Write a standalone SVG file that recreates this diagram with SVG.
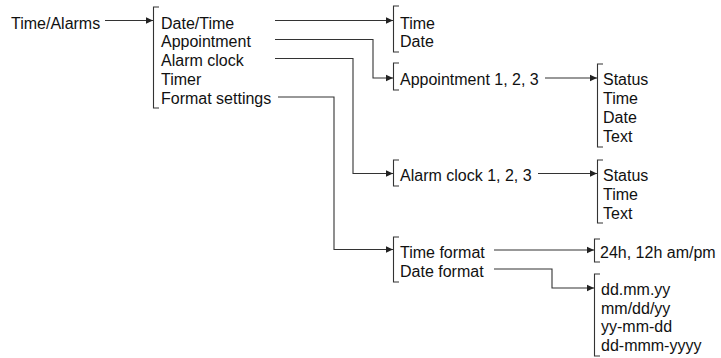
<svg xmlns="http://www.w3.org/2000/svg" width="721" height="358" viewBox="0 0 721 358">
<defs>
<style>
text{font-family:"Liberation Sans",Arial,Helvetica,sans-serif;font-size:16px;fill:#111;}
.c{fill:none;stroke:#333;stroke-width:1.1;}
.b{fill:none;stroke:#333;stroke-width:1.1;}
</style>
<marker id="ah" markerUnits="userSpaceOnUse" markerWidth="8" markerHeight="8" viewBox="0 0 8 8" refX="7" refY="4" orient="auto">
<path d="M0,0.8 L7,4 L0,7.2 Z" fill="#222"/>
</marker>
</defs>
<rect width="721" height="358" fill="#fff"/>
<g id="connectors">
<path class="c" d="M105,20.5 H153" marker-end="url(#ah)"/>
<path class="c" d="M275,20.5 H393" marker-end="url(#ah)"/>
<path class="c" d="M275,39.5 H373 V78 H393" marker-end="url(#ah)"/>
<path class="c" d="M545,78 H597" marker-end="url(#ah)"/>
<path class="c" d="M275,58.5 H353 V173.5 H393" marker-end="url(#ah)"/>
<path class="c" d="M538,173.5 H597" marker-end="url(#ah)"/>
<path class="c" d="M278,97 H334 V249.5 H393" marker-end="url(#ah)"/>
<path class="c" d="M494,250 H594" marker-end="url(#ah)"/>
<path class="c" d="M494,269 H552 V288 H594" marker-end="url(#ah)"/>
</g>
<g id="n-timealarms"><text x="11" y="28.5">Time/Alarms</text></g>
<g id="n-menu">
<path class="b" d="M159,7 H153.5 V108 H159"/>
<text x="161" y="28.5">Date/Time</text>
<text x="161" y="47.3">Appointment</text>
<text x="161" y="66.1">Alarm clock</text>
<text x="161" y="84.9">Timer</text>
<text x="161" y="103.7">Format settings</text>
</g>
<g id="n-datetime">
<path class="b" d="M399,6 H393.5 V52 H399"/>
<text x="400" y="28.5">Time</text>
<text x="400" y="47.3">Date</text>
</g>
<g id="n-appointment">
<path class="b" d="M399,63 H393.5 V90 H399"/>
<text x="400" y="85">Appointment 1, 2, 3</text>
</g>
<g id="n-appt-details">
<path class="b" d="M603,64 H597.5 V147 H603"/>
<text x="603" y="85">Status</text>
<text x="603" y="104">Time</text>
<text x="603" y="123">Date</text>
<text x="603" y="142">Text</text>
</g>
<g id="n-alarmclock">
<path class="b" d="M399,160 H393.5 V186 H399"/>
<text x="400" y="181">Alarm clock 1, 2, 3</text>
</g>
<g id="n-alarm-details">
<path class="b" d="M603,160 H597.5 V223 H603"/>
<text x="603" y="181">Status</text>
<text x="603" y="200">Time</text>
<text x="603" y="219">Text</text>
</g>
<g id="n-format">
<path class="b" d="M399,237 H393.5 V282 H399"/>
<text x="400" y="258">Time format</text>
<text x="400" y="277">Date format</text>
</g>
<g id="n-timeformat">
<path class="b" d="M600,239 H594.5 V262 H600"/>
<text x="600" y="258">24h, 12h am/pm</text>
</g>
<g id="n-dateformat">
<path class="b" d="M600,274 H594.5 V356 H600"/>
<text x="601" y="295">dd.mm.yy</text>
<text x="601" y="313.5">mm/dd/yy</text>
<text x="601" y="332">yy-mm-dd</text>
<text x="601" y="350.5">dd-mmm-yyyy</text>
</g>
</svg>
